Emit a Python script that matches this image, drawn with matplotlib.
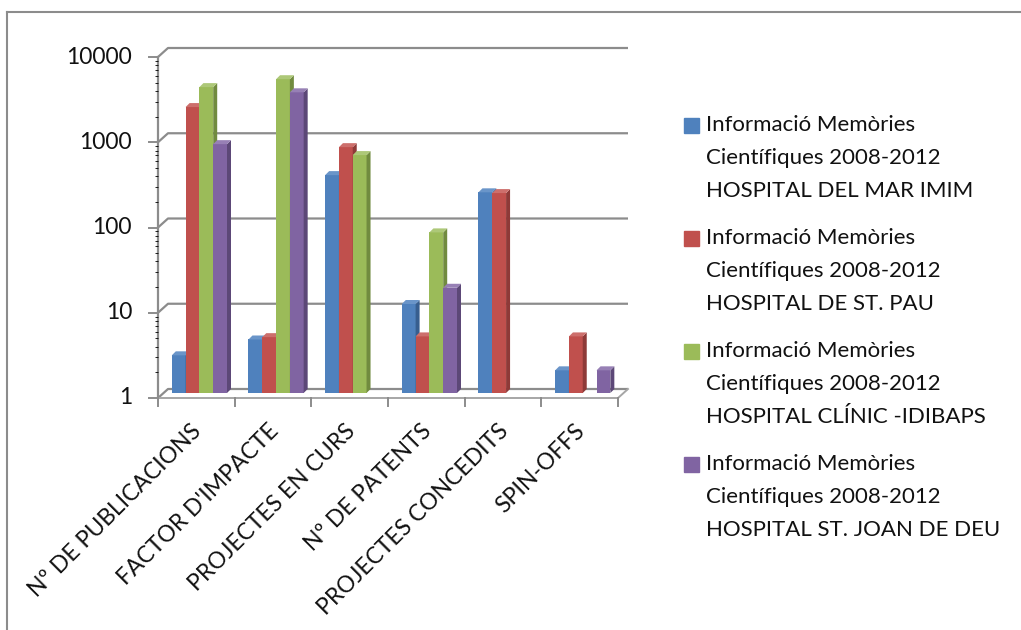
import matplotlib
matplotlib.use("Agg")
import matplotlib.pyplot as plt
from matplotlib.patches import Rectangle
import numpy as np

plt.rcParams['font.family'] = ['Lato', 'DejaVu Sans']

# dades llegides del gràfic (escala logarítmica)
CATEGORIES = ["Nº DE PUBLICACIONS", "FACTOR D'IMPACTE", "PROJECTES EN CURS",
              "Nº DE PATENTS", "PROJECTES CONCEDITS", "SPIN-OFFS"]
SERIES = [
    "Informació Memòries\nCientífiques 2008-2012\nHOSPITAL DEL MAR IMIM",
    "Informació Memòries\nCientífiques 2008-2012\nHOSPITAL DE ST. PAU",
    "Informació Memòries\nCientífiques 2008-2012\nHOSPITAL CLÍNIC -IDIBAPS",
    "Informació Memòries\nCientífiques 2008-2012\nHOSPITAL ST. JOAN DE DEU",
]
DEL_MAR = [3, 4.6, 390, 12, 245, 2]
ST_PAU = [2450, 4.9, 830, 5, 240, 5]
CLINIC = [4200, 5200, 670, 83, None, None]
ST_JOAN = [900, 3650, None, 18.6, None, 2]
VALUES = [DEL_MAR, ST_PAU, CLINIC, ST_JOAN]

FRONT = ['#4F81BD', '#C0504D', '#9BBB59', '#8064A2']
SIDE = ['#375E8F', '#8E3A38', '#718B3F', '#5C4877']
TOP = ['#6A95C9', '#CD6F6C', '#ADC878', '#9780B5']

W, H = 1021, 630
fig = plt.figure(figsize=(W / 100, H / 100), dpi=100)

# plot area in pixels: x 158..618, y 57..398
x0, x1, ytop, ybot = 158, 618, 57, 398
ax = fig.add_axes([x0 / W, 1 - ybot / H, (x1 - x0) / W, (ybot - ytop) / H])
ax.set_yscale('log')
ax.set_xlim(0, 6)
ax.set_ylim(1, 10000)
for s in ax.spines.values():
    s.set_visible(False)
ax.set_xticks([])
ax.set_yticks([])

px_x = 6 / (x1 - x0)            # data units per pixel (x)
px_dec = (ybot - ytop) / 4.0    # pixels per decade
def yfac(p):
    return 10 ** (p / px_dec)

GRAY = '#8C8C8C'
dxb, kb = 10 * px_x, yfac(9)    # back wall offset

# back wall gridlines with the little diagonal on the side wall
for v in [1, 10, 100, 1000, 10000]:
    ax.plot([0, dxb, 6 + dxb], [v, v * kb, v * kb], color=GRAY, lw=1.6,
            clip_on=False, zorder=1, solid_capstyle='butt')
# floor front edge + right edge
ax.plot([0, 6, 6 + dxb], [1, 1, kb], color='#A6A6A6', lw=1.4, clip_on=False, zorder=1)
# y axis line
ax.plot([0, 0], [1, 10000], color=GRAY, lw=1.6, clip_on=False, zorder=1)
for v in [1, 10, 100, 1000, 10000]:
    ax.plot([-9 * px_x, 0], [v, v], color=GRAY, lw=1.4, clip_on=False)
    ax.text(-26 * px_x, v, f"{v}", ha='right', va='center', fontsize=16.5,
            color='#111111')
for i in range(7):
    ax.plot([i, i], [1, 1 / yfac(8)], color=GRAY, lw=1.4, clip_on=False)

# bars with a simple 3D look
bw = 0.18
base = yfac(5)
dxs, ks = 4 * px_x, yfac(4)
for i in range(len(CATEGORIES)):
    for j, vals in enumerate(VALUES):
        v = vals[i]
        if v is None:
            continue
        left = i + 0.18 + j * bw
        top = v * base / yfac(3)
        ax.bar(left, top - base, bottom=base, width=bw, align='edge',
               color=FRONT[j], lw=0, zorder=3 + j)
        ax.fill([left + bw, left + bw + dxs, left + bw + dxs, left + bw],
                [base, base * ks, top * ks, top], color=SIDE[j], lw=0, zorder=3 + j)
        ax.fill([left, left + dxs, left + bw + dxs, left + bw],
                [top, top * ks, top * ks, top], color=TOP[j], lw=0, zorder=3 + j)

# category labels, rotated
for i, name in enumerate(CATEGORIES):
    ax.text(i + 0.5 + 2 * px_x, 1 / yfac(30), name, rotation=45, rotation_mode='anchor',
            ha='right', va='center', fontsize=16.5, color='#111111')

# legend drawn by hand: square aligned with first line
for j, label in enumerate(SERIES):
    ytxt = 115 + j * 113
    fig.patches.append(Rectangle((684 / W, 1 - (ytxt + 18) / H), 15 / W, 15 / H,
                                 transform=fig.transFigure, color=FRONT[j]))
    fig.text(706 / W, 1 - ytxt / H, label, ha='left', va='top', fontsize=16,
             linespacing=1.8, color='#111111')

# chart border (left and top visible)
fig.add_artist(plt.Line2D([7 / W, 7 / W], [0, 1 - 12 / H], color='#8C8C8C', lw=1.5,
                          transform=fig.transFigure))
fig.add_artist(plt.Line2D([7 / W, 1], [1 - 12 / H, 1 - 12 / H], color='#8C8C8C', lw=1.5,
                          transform=fig.transFigure))

fig.savefig('out.png', dpi=100)
